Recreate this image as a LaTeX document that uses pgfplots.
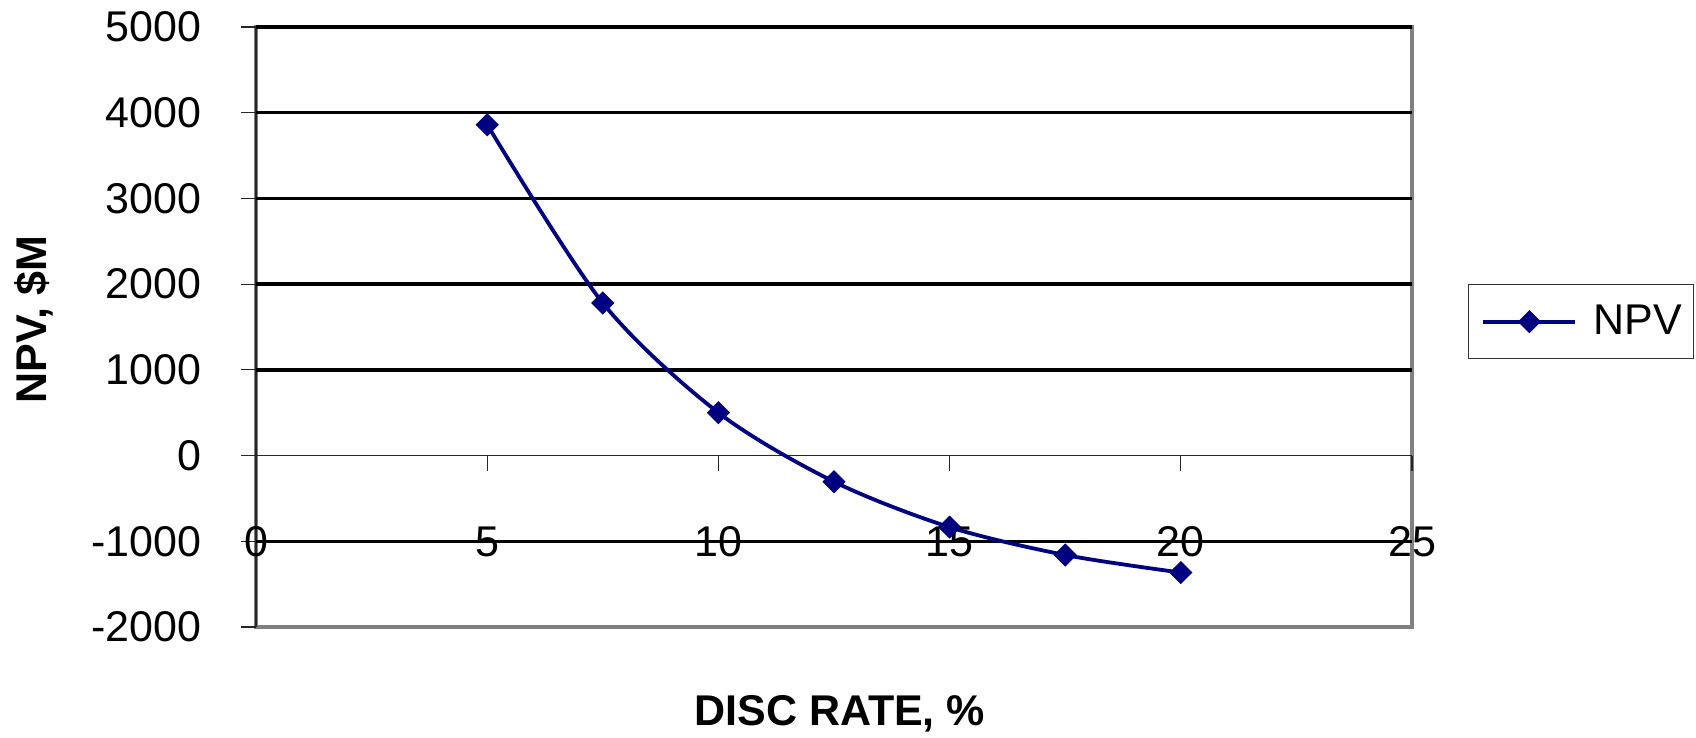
\documentclass[border=0pt]{standalone}
\usepackage{fontspec}
\setmainfont{Liberation Sans}
\usepackage{pgfplots}
\pgfplotsset{compat=1.18}

\definecolor{npvnavy}{HTML}{000080}
\newcommand{\chartfont}{\fontsize{21.5}{25}\selectfont}

\begin{document}
\begin{tikzpicture}
\useasboundingbox (-128pt,-55.5pt) rectangle (720pt,313.5pt);
\begin{axis}[
  scale only axis,
  width=578pt, height=300pt,
  xmin=0, xmax=25, ymin=-2000, ymax=5000,
  axis x line=middle, axis y line=left,
  hide obscured x ticks=false,
  hide obscured y ticks=false,
  axis line style={-, black!85, line width=0.6pt},
  axis background/.style={draw=gray, line width=1.8pt},
  xtick={0,5,10,15,20,25},
  xticklabels={0,5,10,15,20,25},
  ytick={-2000,-1000,0,1000,2000,3000,4000,5000},
  yticklabels={-2000,-1000,0,1000,2000,3000,4000,5000},
  tick align=outside,
  major tick length=7.5pt,
  tick style={black!85, line width=0.6pt},
  ticklabel style={font=\chartfont},
  xticklabel style={anchor=center, yshift=-35.75pt},
  yticklabel style={anchor=east, inner sep=0pt, xshift=-19.5pt},
  extra y ticks={-1000,1000,2000,3000,4000,5000},
  extra y tick labels={},
  extra y tick style={grid=major, major tick length=0pt,
    major grid style={black, line width=1.7pt}},
  xlabel={DISC RATE, \%},
  ylabel={NPV, \$M},
  every axis x label/.style={at={(rel axis cs:0.505,-0.145)}, anchor=center,
    font=\chartfont\bfseries},
  every axis y label/.style={at={(rel axis cs:-0.192,0.5125)}, rotate=90, anchor=center,
    font=\chartfont\bfseries},
  legend style={at={(rel axis cs:1.0484,0.5717)}, anchor=north west,
    draw=black!80, line width=0.6pt, font=\chartfont,
    inner xsep=6pt, inner ysep=10.4pt,
    nodes={inner sep=0pt}},
  legend image code/.code={
    \path (-0.5pt,0pt) (54pt,0pt);
    \draw[#1, mark repeat=2, mark phase=2] plot coordinates {(0pt,0pt) (23pt,0pt) (46pt,0pt)};
  },
]
\addplot[color=npvnavy, line width=1.9pt, smooth, tension=0.5,
  mark=square*, mark size=3.8pt,
  mark options={rotate=45, solid, fill=npvnavy, line width=0.6pt}]
  coordinates {
    (5,3860) (7.5,1780) (10,500) (12.5,-305)
    (15,-835) (17.5,-1160) (20,-1365)
  };
\addlegendentry{NPV}
\end{axis}
\end{tikzpicture}
\end{document}
